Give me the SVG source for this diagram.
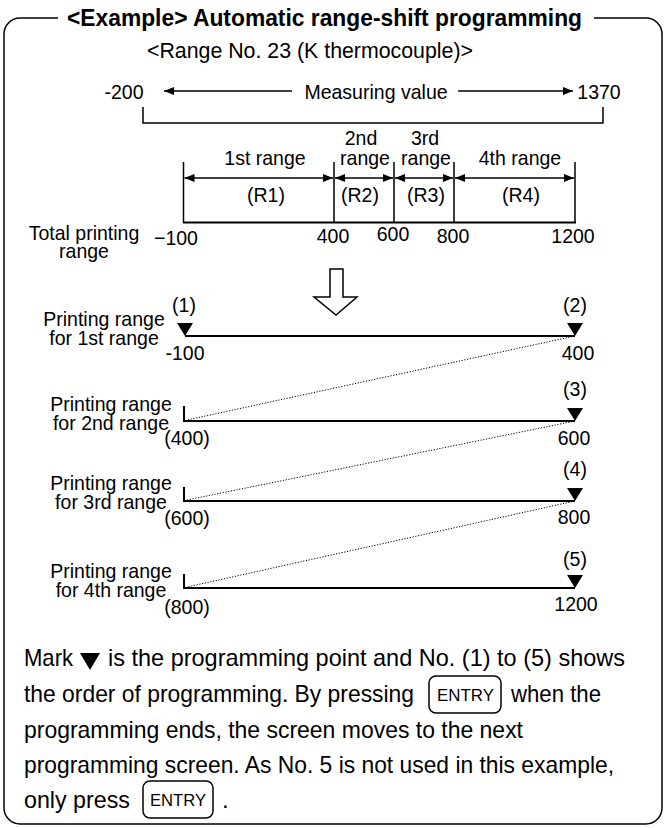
<svg xmlns="http://www.w3.org/2000/svg" width="665" height="828" viewBox="0 0 665 828">
<defs>
<marker id="ah" viewBox="0 0 10 8" refX="10" refY="4" markerWidth="10" markerHeight="8" markerUnits="userSpaceOnUse" orient="auto-start-reverse"><path d="M0,0 L10,4 L0,8 z" fill="#000"/></marker>
<polygon id="tri" points="-8,-13 8,-13 0,0" fill="#000"/>
</defs>
<style>
text{font-family:"Liberation Sans",Arial,sans-serif;fill:#000}
.t{font-size:21px;text-anchor:middle;transform-box:fill-box;transform-origin:center;transform:scaleX(.93)}
.b{font-size:24px}
.k{font-size:17px}
.ln{stroke:#000;stroke-width:1.5;fill:none}
.th{stroke:#000;stroke-width:2;fill:none}
.ar{stroke:#000;stroke-width:1.5;fill:none;marker-start:url(#ah);marker-end:url(#ah)}
.ar1{stroke:#000;stroke-width:1.5;fill:none;marker-end:url(#ah)}
.dot{stroke:#000;stroke-width:1;stroke-dasharray:1.2 1.6;fill:none}
.key{stroke:#000;stroke-width:1.5;fill:#fff}
</style>
<rect width="665" height="828" fill="#fff"/>

<g id="frame">
<path class="ln" d="M58,18 H20 A16,16 0 0 0 4,34 V808 A16,16 0 0 0 20,824 H646 A16,16 0 0 0 662,808 V34 A16,16 0 0 0 646,18 H594"/>
<text x="67" y="26" font-size="23" font-weight="bold" textLength="515" lengthAdjust="spacingAndGlyphs">&lt;Example&gt; Automatic range-shift programming</text>
<text x="147" y="58" font-size="22" textLength="326" lengthAdjust="spacingAndGlyphs">&lt;Range No. 23 (K thermocouple)&gt;</text>
</g>

<g id="measuring">
<text class="t" x="124" y="99">-200</text>
<text class="t" x="376" y="99">Measuring value</text>
<text class="t" x="599" y="99">1370</text>
</g>

<g id="total-range">
<text class="t" x="84" y="240">Total printing</text>
<text class="t" x="84" y="258">range</text>
<text class="t" x="176" y="245">−100</text>
<text class="t" x="333" y="243">400</text>
<text class="t" x="393" y="241">600</text>
<text class="t" x="453" y="243">800</text>
<text class="t" x="573" y="243">1200</text>
<text class="t" x="265" y="165">1st range</text>
<text class="t" x="361" y="145">2nd</text>
<text class="t" x="365" y="165">range</text>
<text class="t" x="425" y="145">3rd</text>
<text class="t" x="426" y="165">range</text>
<text class="t" x="520" y="165">4th range</text>
<text class="t" x="266" y="202">(R1)</text>
<text class="t" x="360" y="202">(R2)</text>
<text class="t" x="426" y="202">(R3)</text>
<text class="t" x="521" y="202">(R4)</text>
</g>

<g id="down-arrow">
<polygon points="330,269 343,269 343,297 357,297 336,315 314,297 330,297" fill="#fff" stroke="#000" stroke-width="1.5"/>
</g>

<g id="row1">
<text class="t" x="104" y="326">Printing range</text>
<text class="t" x="104" y="345">for 1st range</text>
<text class="t" x="184" y="312">(1)</text>
<text class="t" x="575" y="312">(2)</text>
<text class="t" x="185" y="360">-100</text>
<text class="t" x="578" y="360">400</text>
<use href="#tri" x="185" y="336"/>
<use href="#tri" x="575" y="336"/>
</g>

<g id="row2">
<text class="t" x="111" y="411">Printing range</text>
<text class="t" x="111" y="430">for 2nd range</text>
<text class="t" x="575" y="396">(3)</text>
<text class="t" x="187" y="445">(400)</text>
<text class="t" x="574" y="445">600</text>
<use href="#tri" x="575" y="421"/>
</g>

<g id="row3">
<text class="t" x="111" y="490">Printing range</text>
<text class="t" x="111" y="509">for 3rd range</text>
<text class="t" x="575" y="476">(4)</text>
<text class="t" x="187" y="525">(600)</text>
<text class="t" x="574" y="524">800</text>
<use href="#tri" x="575" y="501"/>
</g>

<g id="row4">
<text class="t" x="111" y="578">Printing range</text>
<text class="t" x="111" y="597">for 4th range</text>
<text class="t" x="575" y="566">(5)</text>
<text class="t" x="187" y="614">(800)</text>
<text class="t" x="576" y="611">1200</text>
<use href="#tri" x="575" y="588"/>
</g>

<g id="connectors">
<line class="ar1" x1="292" y1="91" x2="164" y2="91"/>
<line class="ar1" x1="458" y1="91" x2="573" y2="91"/>
<polyline class="ln" points="143,107 143,123 603,123 603,107"/>
<line class="ln" x1="183.5" y1="162" x2="183.5" y2="223"/>
<line class="ln" x1="334" y1="162" x2="334" y2="223"/>
<line class="ln" x1="394" y1="162" x2="394" y2="223"/>
<line class="ln" x1="454" y1="162" x2="454" y2="223"/>
<line class="ln" x1="575" y1="162" x2="575" y2="223"/>
<line class="th" x1="183" y1="222.5" x2="576" y2="222.5"/>
<line class="ar" x1="184.5" y1="178" x2="333" y2="178"/>
<line class="ar" x1="335" y1="178" x2="393" y2="178"/>
<line class="ar" x1="395" y1="178" x2="453" y2="178"/>
<line class="ar" x1="455" y1="178" x2="574" y2="178"/>
<line class="th" x1="185" y1="336" x2="575" y2="336"/>
<polyline class="th" points="184,406 184,421 575,421"/>
<polyline class="th" points="184,487 184,501 575,501"/>
<polyline class="th" points="184,574 184,588 575,588"/>
<line class="dot" x1="575" y1="336" x2="187" y2="420"/>
<line class="dot" x1="575" y1="421" x2="187" y2="500"/>
<line class="dot" x1="575" y1="501" x2="187" y2="587"/>
</g>

<g id="note">
<text class="b" x="24" y="666" textLength="49" lengthAdjust="spacingAndGlyphs">Mark</text>
<polygon points="80,653 100,653 90,670" fill="#000"/>
<text class="b" x="108" y="666" textLength="517" lengthAdjust="spacingAndGlyphs">is the programming point and No. (1) to (5) shows</text>
<text class="b" x="24" y="702" textLength="390" lengthAdjust="spacingAndGlyphs">the order of programming. By pressing</text>
<rect class="key" x="429" y="676" width="72" height="37" rx="7"/>
<text class="k" x="437" y="701" textLength="57" lengthAdjust="spacingAndGlyphs">ENTRY</text>
<text class="b" x="511" y="702" textLength="90" lengthAdjust="spacingAndGlyphs">when the</text>
<text class="b" x="24" y="738" textLength="499" lengthAdjust="spacingAndGlyphs">programming ends, the screen moves to the next</text>
<text class="b" x="24" y="773" textLength="590" lengthAdjust="spacingAndGlyphs">programming screen. As No. 5 is not used in this example,</text>
<text class="b" x="24" y="808" textLength="106" lengthAdjust="spacingAndGlyphs">only press</text>
<rect class="key" x="143" y="781" width="70" height="37" rx="7"/>
<text class="k" x="150" y="806" textLength="56" lengthAdjust="spacingAndGlyphs">ENTRY</text>
<text class="b" x="222" y="808">.</text>
</g>
</svg>
